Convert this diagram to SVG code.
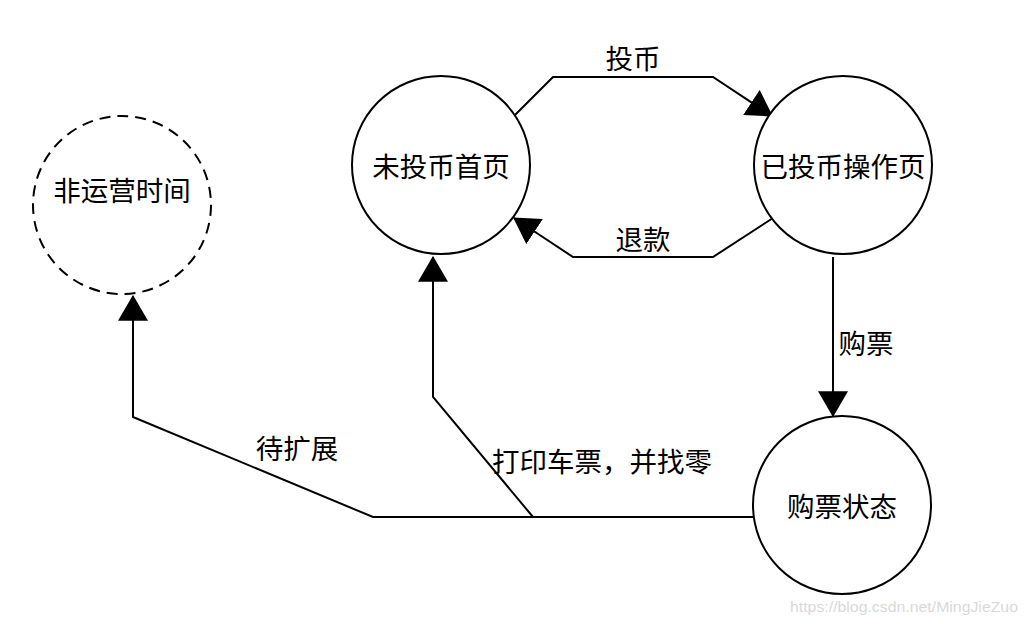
<svg xmlns="http://www.w3.org/2000/svg" width="1028" height="624" viewBox="0 0 1028 624">
<style>
.node circle{fill:#fff;stroke:#000;stroke-width:2}
.dash{stroke-dasharray:11 7}
.t{font-family:"Noto Sans CJK SC","Noto Sans",sans-serif;font-size:27.5px;fill:#000;text-anchor:middle;dominant-baseline:central}
.e{fill:none;stroke:#000;stroke-width:2}
.wm{font-family:"Liberation Sans",Arial,sans-serif;font-size:15px;fill:#d9d9d9}
</style>
<defs>
<marker id="ah" markerUnits="userSpaceOnUse" markerWidth="26" markerHeight="30" viewBox="0 0 24 28" refX="23" refY="14" orient="auto">
<path d="M0,0 L24,14 L0,28 z" fill="#000"/>
</marker>
</defs>
<rect width="1028" height="624" fill="#fff"/>
<g id="connectors">
<path class="e" d="M513,117 L553,77 L713,77 L772,116" marker-end="url(#ah)"/>
<path class="e" d="M773,218 L713,257 L573,257 L514,218" marker-end="url(#ah)"/>
<path class="e" d="M833,257 L833,416" marker-end="url(#ah)"/>
<path class="e" d="M753,517 L533,517 L433,397 L433,257" marker-end="url(#ah)"/>
<path class="e" d="M533,517 L373,517 L133,417 L133,296" marker-end="url(#ah)"/>
<text class="t" x="633" y="57">投币</text>
<text class="t" x="643" y="238">退款</text>
<text class="t" x="866" y="342">购票</text>
<text class="t" x="297" y="447">待扩展</text>
<text class="t" x="602" y="460">打印车票，并找零</text>
</g>
<g id="n-offhours" class="node">
<circle class="dash" cx="122" cy="205" r="89"/>
<text class="t" x="122" y="189">非运营时间</text>
</g>
<g id="n-home" class="node">
<circle cx="441" cy="165" r="89"/>
<text class="t" x="441" y="165">未投币首页</text>
</g>
<g id="n-operate" class="node">
<circle cx="843" cy="165" r="89"/>
<text class="t" x="843" y="165">已投币操作页</text>
</g>
<g id="n-buy" class="node">
<circle cx="842" cy="505" r="89"/>
<text class="t" x="842" y="505">购票状态</text>
</g>
<text class="wm" x="790" y="612" textLength="228" lengthAdjust="spacingAndGlyphs">https://blog.csdn.net/MingJieZuo</text>
</svg>
